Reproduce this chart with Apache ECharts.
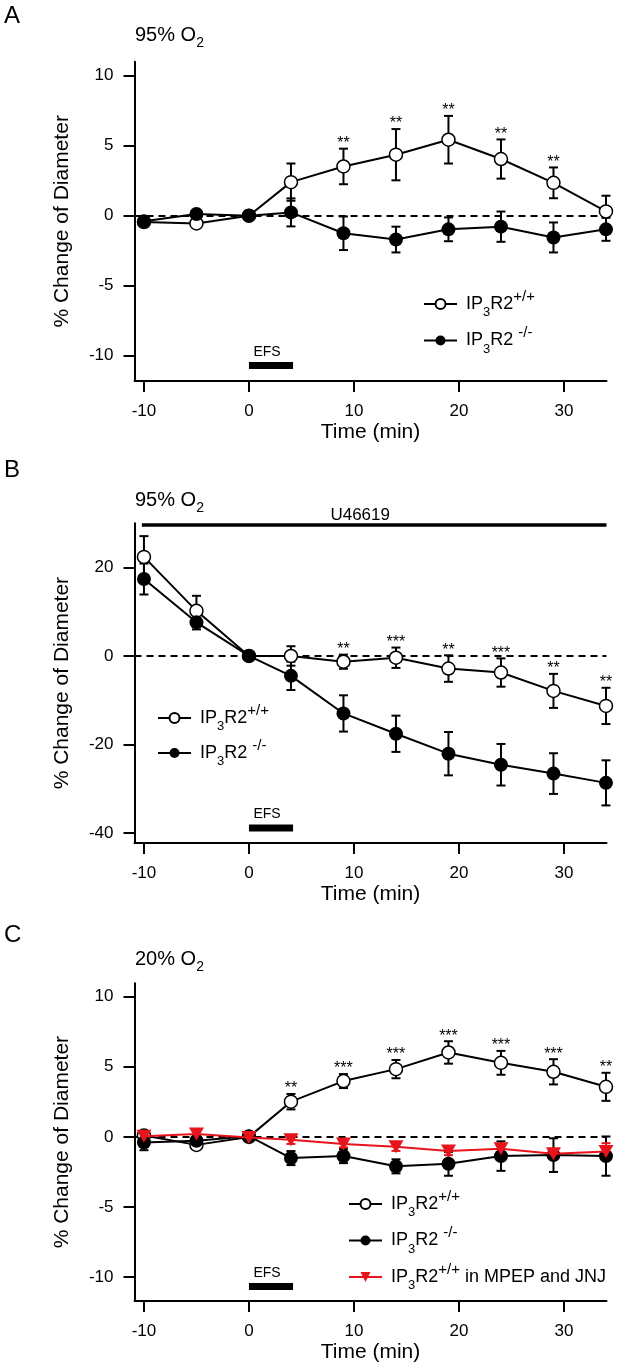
<!DOCTYPE html>
<html>
<head>
<meta charset="utf-8">
<title>IP3R2 - change of diameter</title>
<script src="https://cdn.jsdelivr.net/npm/echarts@6.0.0/dist/echarts.min.js"></script>
<style>
  html, body { margin: 0; padding: 0; background: #fff; }
  #chart { width: 620px; height: 1371px; }
</style>
</head>
<body>
<div id="chart"></div>
<script>
// time points (min)
const times = [-10, -5, 0, 4, 9, 14, 19, 24, 29, 34]
const xTicks = [-10, 0, 10, 20, 30]
const yTicksAC = [-10, -5, 0, 5, 10]
const yTicksB = [-40, -20, 0, 20]

// A: 95% O2
const wtA = [-0.45, -0.55, 0, 2.4, 3.52, 4.36, 5.43, 4.05, 2.35, 0.31]
const wtAErr = [0.1, 0.1, 0, 1.33, 1.27, 1.83, 1.7, 1.4, 1.1, 1.12]
const koA = [-0.4, 0.12, 0, 0.24, -1.25, -1.7, -0.97, -0.78, -1.55, -0.97]
const koAErr = [0.15, 0.1, 0, 1.0, 1.2, 0.92, 0.85, 1.08, 1.07, 0.82]
const sigA = ['', '', '', '', '**', '**', '**', '**', '**', '']

// B: 95% O2 + U46619
const wtB = [22.4, 10.2, 0, 0, -1.3, -0.4, -2.85, -3.75, -7.9, -11.3]
const wtBErr = [4.7, 3.4, 0, 2.2, 1.6, 2.3, 3.0, 3.2, 3.85, 4.1]
const koB = [17.4, 7.6, 0, -4.5, -13.0, -17.6, -22.1, -24.6, -26.6, -28.7]
const koBErr = [3.5, 1.6, 0, 3.2, 4.1, 4.1, 4.9, 4.7, 4.6, 5.1]
const sigB = ['', '', '', '', '**', '***', '**', '***', '**', '**']

// C: 20% O2
const wtC = [0.1, -0.57, 0, 2.51, 3.98, 4.83, 6.02, 5.28, 4.64, 3.57]
const wtCErr = [0.3, 0.1, 0, 0.55, 0.5, 0.65, 0.8, 0.85, 0.9, 1.0]
const koC = [-0.4, -0.28, 0.05, -1.51, -1.37, -2.1, -1.92, -1.37, -1.3, -1.37]
const koCErr = [0.55, 0.3, 0.1, 0.5, 0.5, 0.5, 0.85, 1.05, 1.2, 1.4]
const mpepC = [0.05, 0.2, -0.05, -0.2, -0.5, -0.7, -1.0, -0.85, -1.2, -1.05]
const mpepCErr = [0.2, 0.2, 0.1, 0.3, 0.25, 0.3, 0.3, 0.3, 0.3, 0.6]
const sigC = ['', '', '', '**', '***', '***', '***', '***', '***', '**']

// stimulus bars: [start, end, level]
const efsA = [0, 4.2, -10.7]
const efsB = [0, 4.2, -38.9]
const efsC = [0, 4.2, -10.67]
const u46619B = [-10.2, 34.05, 29.6]

const FONT = '"Liberation Sans", Arial, sans-serif'
const RED = '#e8141b'

const chart = echarts.init(document.getElementById('chart'))

function pairs(ys) {
    return times.map((t, i) => [t, ys[i]])
}
function withErr(ys, errs) {
    return times.map((t, i) => [t, ys[i], errs[i]])
}

// rich text pieces for IP3R2 labels
const rich = {
    f: { fontSize: 18, lineHeight: 30, fontFamily: FONT, color: '#000', padding: [0, 0, 0, 4] },
    m: { fontSize: 18, lineHeight: 30, fontFamily: FONT, color: '#000' },
    s: { fontSize: 13, lineHeight: 20, fontFamily: FONT, color: '#000', verticalAlign: 'bottom' },
    p: { fontSize: 15, lineHeight: 6, fontFamily: FONT, color: '#000', verticalAlign: 'top' }
}
const legendText = {
    wt: '{f|IP}{s|3}{m|R2}{p|+/+}',
    ko: '{f|IP}{s|3}{m|R2 }{p|-/-}',
    mpep: '{f|IP}{s|3}{m|R2}{p|+/+}{m| in MPEP and JNJ}'
}

// error bars, with significance stars above the upper cap
function errSeries(name, data, idx, color, sig) {
    return {
        name: name,
        type: 'custom',
        xAxisIndex: idx,
        yAxisIndex: idx,
        z: 2,
        silent: true,
        data: data,
        encode: { x: 0, y: 1 },
        renderItem(params, api) {
            const x = api.value(0)
            const m = api.value(1)
            const e = api.value(2)
            const children = []
            const hi = api.coord([x, m + e])
            const lo = api.coord([x, m - e])
            const st = { stroke: color, lineWidth: 2 }
            if (e > 0) {
                children.push({ type: 'line', shape: { x1: hi[0], y1: hi[1], x2: lo[0], y2: lo[1] }, style: st })
                children.push({ type: 'line', shape: { x1: hi[0] - 4.5, y1: hi[1], x2: hi[0] + 4.5, y2: hi[1] }, style: st })
                children.push({ type: 'line', shape: { x1: lo[0] - 4.5, y1: lo[1], x2: lo[0] + 4.5, y2: lo[1] }, style: st })
            }
            const s = sig && sig[params.dataIndex]
            if (s) {
                children.push({
                    type: 'text',
                    style: {
                        text: s, x: hi[0], y: hi[1] + 3, textAlign: 'center', textVerticalAlign: 'bottom',
                        font: '16px ' + FONT, fill: '#000'
                    }
                })
            }
            return { type: 'group', children: children }
        }
    }
}

// thick annotation bar with text above it
function barSeries(bar, idx, label, thick, fontSize, labelShift, labelGap, withZero) {
    const s = {
        type: 'custom',
        xAxisIndex: idx,
        yAxisIndex: idx,
        z: 1,
        silent: true,
        data: [bar],
        renderItem(params, api) {
            const a = api.coord([api.value(0), api.value(2)])
            const b = api.coord([api.value(1), api.value(2)])
            return {
                type: 'group',
                children: [
                    { type: 'rect', shape: { x: a[0], y: a[1] - thick / 2, width: b[0] - a[0], height: thick }, style: { fill: '#000' } },
                    {
                        type: 'text',
                        style: {
                            text: label, x: (a[0] + b[0]) / 2 + labelShift, y: a[1] - thick / 2 - labelGap,
                            textAlign: 'center', textVerticalAlign: 'bottom', font: fontSize + 'px ' + FONT, fill: '#000'
                        }
                    }
                ]
            }
        }
    }
    if (withZero) {
        // dashed zero line
        s.markLine = {
            z: 1,
            silent: true,
            symbol: 'none',
            animation: false,
            label: { show: false },
            lineStyle: { color: '#000', width: 1.8, type: [7, 5] },
            data: [{ yAxis: 0 }]
        }
    }
    return s
}

function lineSeries(kind, ys, idx) {
    const base = {
        name: kind,
        type: 'line',
        xAxisIndex: idx,
        yAxisIndex: idx,
        data: pairs(ys),
        silent: true
    }
    if (kind === 'wt') {
        return Object.assign(base, {
            z: 3, symbol: 'circle', symbolSize: 13,
            itemStyle: { color: '#fff', borderColor: '#000', borderWidth: 1.5 },
            lineStyle: { color: '#000', width: 2 }
        })
    }
    if (kind === 'ko') {
        return Object.assign(base, {
            z: 4, symbol: 'circle', symbolSize: 14,
            itemStyle: { color: '#000', borderColor: '#000', borderWidth: 0 },
            lineStyle: { color: '#000', width: 2 }
        })
    }
    return Object.assign(base, {
        z: 5, symbol: 'path://M0,0 L14,0 L7,12 Z', symbolSize: [15, 13],
        itemStyle: { color: RED, borderWidth: 0 },
        lineStyle: { color: RED, width: 2 }
    })
}

// three panels share geometry except vertical placement
const grids = [
    { left: 134.5, top: 61.7, width: 472, height: 319.3, outerBoundsMode: 'none' },
    { left: 134.5, top: 523.3, width: 472, height: 319.7, outerBoundsMode: 'none' },
    { left: 134.5, top: 983.3, width: 472, height: 317.7, outerBoundsMode: 'none' }
]
const yRanges = [[-11.8, 11.0, yTicksAC], [-42.3, 30.0, yTicksB], [-11.7, 10.95, yTicksAC]]

const xAxes = grids.map((g, i) => ({
    gridIndex: i,
    type: 'value',
    min: -10.9,
    max: 34.05,
    name: 'Time (min)',
    nameLocation: 'middle',
    nameGap: 41,
    nameTextStyle: { fontSize: 21, color: '#000', fontFamily: FONT },
    axisLine: { onZero: false, lineStyle: { color: '#000', width: 2 } },
    axisTick: { show: true, length: 11, customValues: xTicks, lineStyle: { color: '#000', width: 2 } },
    axisLabel: { customValues: xTicks, fontSize: 17, color: '#000', fontFamily: FONT, margin: 22 },
    splitLine: { show: false }
}))
const yAxes = yRanges.map((r, i) => ({
    gridIndex: i,
    type: 'value',
    min: r[0],
    max: r[1],
    name: '% Change of Diameter',
    nameLocation: 'middle',
    nameGap: 62,
    nameTextStyle: { fontSize: 21, color: '#000', fontFamily: FONT },
    axisLine: { show: true, onZero: false, lineStyle: { color: '#000', width: 2 } },
    axisTick: { show: true, length: 11, customValues: r[2], lineStyle: { color: '#000', width: 2 } },
    axisLabel: { customValues: r[2], fontSize: 17, color: '#000', fontFamily: FONT, margin: 21 },
    splitLine: { show: false }
}))

function legendAt(data, left, top, gap) {
    return {
        data: data,
        orient: 'vertical',
        left: left,
        top: top,
        padding: 0,
        itemGap: gap,
        itemWidth: 33,
        itemHeight: 12.5,
        selectedMode: false,
        formatter: name => legendText[name],
        textStyle: { rich: rich }
    }
}

function titleText(x, y, pct) {
    return {
        type: 'text', x: x, y: y,
        style: {
            text: '{t|' + pct + '% O}{u|2}',
            verticalAlign: 'middle',
            rich: {
                t: { fontSize: 20, lineHeight: 30, fontFamily: FONT, color: '#000' },
                u: { fontSize: 14, lineHeight: 20, fontFamily: FONT, color: '#000', verticalAlign: 'bottom' }
            }
        }
    }
}
function letter(y, t) {
    return { type: 'text', x: 4, y: y, style: { text: t, font: '24px ' + FONT, fill: '#000', verticalAlign: 'middle' } }
}

const option = {
    animation: false,
    backgroundColor: '#fff',
    grid: grids,
    xAxis: xAxes,
    yAxis: yAxes,
    legend: [
        legendAt(['wt', 'ko'], 423, 289, 6.5),
        legendAt(['wt', 'ko'], 157, 703, 5),
        legendAt(['wt', 'ko', 'mpep'], 348, 1189, 6.5)
    ],
    graphic: [
        letter(16, 'A'), titleText(135, 35, '95'),
        letter(470, 'B'), titleText(135, 500, '95'),
        letter(935, 'C'), titleText(135, 959, '20')
    ],
    series: [
        // A
        barSeries(efsA, 0, 'EFS', 7, 14, -4, 3, true),
        errSeries('wtAErr', withErr(wtA, wtAErr), 0, '#000', sigA),
        errSeries('koAErr', withErr(koA, koAErr), 0, '#000', null),
        lineSeries('wt', wtA, 0),
        lineSeries('ko', koA, 0),
        // B
        barSeries(efsB, 1, 'EFS', 7, 14, -4, 3, true),
        barSeries(u46619B, 1, 'U46619', 3.5, 17, -14, 0, false),
        errSeries('wtBErr', withErr(wtB, wtBErr), 1, '#000', sigB),
        errSeries('koBErr', withErr(koB, koBErr), 1, '#000', null),
        lineSeries('wt', wtB, 1),
        lineSeries('ko', koB, 1),
        // C
        barSeries(efsC, 2, 'EFS', 7, 14, -4, 3, true),
        errSeries('wtCErr', withErr(wtC, wtCErr), 2, '#000', sigC),
        errSeries('koCErr', withErr(koC, koCErr), 2, '#000', null),
        errSeries('mpepCErr', withErr(mpepC, mpepCErr), 2, RED, null),
        lineSeries('wt', wtC, 2),
        lineSeries('ko', koC, 2),
        lineSeries('mpep', mpepC, 2)
    ]
}
chart.setOption(option)
</script>
</body>
</html>
